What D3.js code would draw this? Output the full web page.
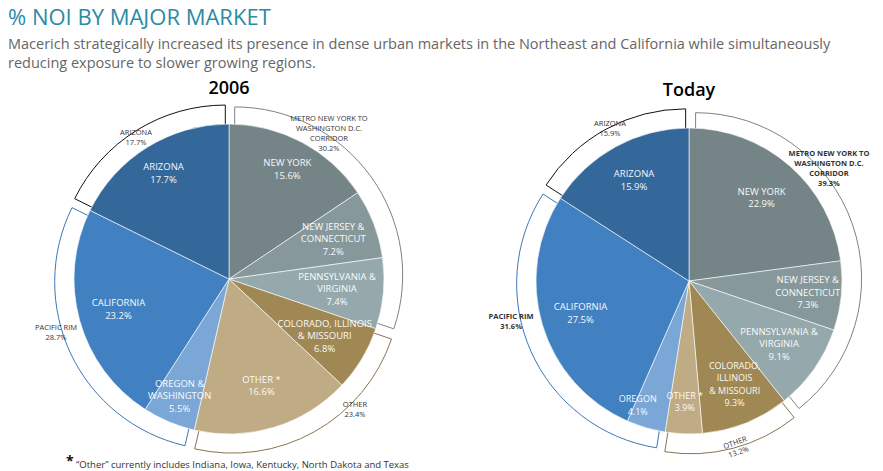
<!DOCTYPE html>
<html><head><meta charset="utf-8">
<script src="https://cdn.jsdelivr.net/npm/d3@7"></script>
<style>body{margin:0;background:#fff}svg{font-family:"Open Sans",sans-serif}</style>
</head><body><svg id="c" width="883" height="471"></svg>
<script>
const categories = ["NEW YORK","NEW JERSEY & CONNECTICUT","PENNSYLVANIA & VIRGINIA","COLORADO, ILLINOIS & MISSOURI","OTHER *","OREGON & WASHINGTON","CALIFORNIA","ARIZONA"];
const values2006 = [15.6,7.2,7.4,6.8,16.6,5.5,23.2,17.7];
const valuesToday = [22.9,7.3,9.1,9.3,3.9,4.1,27.5,15.9];
const groups = ["METRO NEW YORK TO WASHINGTON D.C. CORRIDOR","OTHER","PACIFIC RIM","ARIZONA"];
const groupMembers = [[0,1,2],[3,4],[5,6],[7]];
const groups2006 = [30.2,23.4,28.7,17.7];
const groupsToday = [39.3,13.2,31.6,15.9];
const colors = ["#758587","#87989b","#95a9ad","#a08855","#bfab84","#7ba7d6","#4281c1","#34679a"];
const groupStroke = ["#7a8486","#8a7550","#3e78b5","#111"];

const svg = d3.select("#c");
svg.append("text").attr("x",8).attr("y",25).attr("fill","#2b8aa6").attr("font-size",22).text("% NOI BY MAJOR MARKET");
svg.append("text").attr("x",8).attr("y",49).attr("fill","#666").attr("font-size",14.5).text("Macerich strategically increased its presence in dense urban markets in the Northeast and California while simultaneously");
svg.append("text").attr("x",8).attr("y",68).attr("fill","#666").attr("font-size",14.5).text("reducing exposure to slower growing regions.");
svg.append("text").attr("x",76).attr("y",468).attr("fill","#333").attr("font-size",9.5).text("“Other” currently includes Indiana, Iowa, Kentucky, North Dakota and Texas");
svg.append("text").attr("x",66).attr("y",466).attr("fill","#111").attr("font-size",14).attr("font-weight","bold").text("*");

function drawPie(cx, cy, r, title, vals, gvals, labelCfg, shortNames, groupLabels){
  const g = svg.append("g").attr("transform",`translate(${cx},${cy})`);
  svg.append("text").attr("x",cx).attr("y",cy-185).attr("text-anchor","middle").attr("font-size",18).attr("font-weight",600).attr("fill","#000").text(title);
  const pie = d3.pie().sort(null).value(d=>d);
  const arcs = pie(vals);
  const gArcs = groupMembers.map((m,i)=>({startAngle:arcs[m[0]].startAngle,endAngle:arcs[m[m.length-1]].endAngle}));
  const bArc = d3.arc().innerRadius(0).outerRadius(r+13);
  gArcs.forEach((a,i)=>{
    const mid=(a.startAngle+a.endAngle)/2, off=7;
    g.append("path").attr("d",bArc(a)).attr("fill","#fff").attr("stroke",groupStroke[i]).attr("stroke-width",1)
     .attr("transform",`translate(${Math.sin(mid)*off},${-Math.cos(mid)*off})`);
  });
  const arc = d3.arc().innerRadius(0).outerRadius(r);
  g.selectAll("path.s").data(arcs).join("path").attr("class","s").attr("d",arc).attr("fill",(d,i)=>colors[i]).attr("stroke","#fff").attr("stroke-width",0.6);
  arcs.forEach((a,i)=>{
    const mid=(a.startAngle+a.endAngle)/2, f=labelCfg[i][0], da=(labelCfg[i][1]||0)*Math.PI/180;
    const ang=mid+da;
    const x=Math.sin(ang)*r*f, y=-Math.cos(ang)*r*f;
    const lines=shortNames[i].concat([vals[i].toFixed(1)+"%"]);
    const t=g.append("text").attr("text-anchor","middle").attr("fill","#fff").attr("font-size",labelCfg[i][2]||9.5).attr("opacity",0.95);
    lines.forEach((l,k)=>t.append("tspan").attr("x",x).attr("y",y+(k-(lines.length-1)/2)*12.5+3).text(l));
  });
  groupLabels.forEach((gl,i)=>{
    const t=g.append("text").attr("text-anchor","middle").attr("fill","#333").attr("font-size",gl.fs||7.5).attr("font-weight",gl.bold?"bold":"normal");
    if(gl.rot) t.attr("transform",`rotate(${gl.rot},${gl.x},${gl.y})`);
    const lines=gl.lines.concat([gvals[i].toFixed(1)+"%"]);
    lines.forEach((l,k)=>t.append("tspan").attr("x",gl.x).attr("y",gl.y+k*10).text(l));
  });
}
drawPie(229,279,155,"2006",values2006,groups2006,
 [[0.8],[0.72],[0.7],[0.72],[0.72],[0.82],[0.74],[0.8]],
 [["NEW YORK"],["NEW JERSEY &","CONNECTICUT"],["PENNSYLVANIA &","VIRGINIA"],["COLORADO, ILLINOIS","& MISSOURI"],["OTHER *"],["OREGON &","WASHINGTON"],["CALIFORNIA"],["ARIZONA"]],
 [{lines:["METRO NEW YORK TO","WASHINGTON D.C.","CORRIDOR"],x:100,y:-158},
  {lines:["OTHER"],x:126,y:128},
  {lines:["PACIFIC RIM"],x:-173,y:51},
  {lines:["ARIZONA"],x:-93,y:-144}]);
drawPie(689,281,153,"Today",valuesToday,groupsToday,
 [[0.72],[0.78],[0.72],[0.74,-2,9],[0.79,0,9],[0.88,6,9],[0.74],[0.75]],
 [["NEW YORK"],["NEW JERSEY &","CONNECTICUT"],["PENNSYLVANIA &","VIRGINIA"],["COLORADO,","ILLINOIS","& MISSOURI"],["OTHER *"],["OREGON"],["CALIFORNIA"],["ARIZONA"]],
 [{lines:["METRO NEW YORK TO","WASHINGTON D.C.","CORRIDOR"],x:140,y:-125,bold:true},
  {lines:["OTHER"],x:47,y:164,rot:-20},
  {lines:["PACIFIC RIM"],x:-178,y:38,bold:true},
  {lines:["ARIZONA"],x:-79,y:-155}]);
</script></body></html>
